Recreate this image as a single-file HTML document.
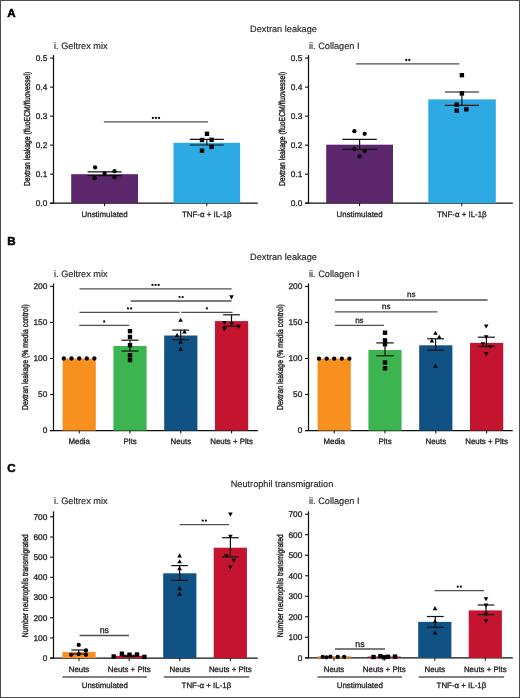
<!DOCTYPE html><html><head><meta charset="utf-8"><style>html,body{margin:0;padding:0;background:#fff;}svg{display:block;font-family:"Liberation Sans",sans-serif;will-change:transform;text-rendering:geometricPrecision;}</style></head><body>
<svg width="520" height="698" viewBox="0 0 520 698">
<rect x="0" y="0" width="520" height="698" fill="#fff"/>
<text x="7.3" y="16.8" font-size="11.6" text-anchor="start" font-weight="bold" fill="#000" stroke="#000" stroke-width="0.15" style="stroke-width:0.5px">A</text>
<text x="7.3" y="244.8" font-size="11.6" text-anchor="start" font-weight="bold" fill="#000" stroke="#000" stroke-width="0.15" style="stroke-width:0.5px">B</text>
<text x="7.3" y="472.3" font-size="11.6" text-anchor="start" font-weight="bold" fill="#000" stroke="#000" stroke-width="0.15" style="stroke-width:0.5px">C</text>
<text x="283.5" y="32.0" font-size="9.2" text-anchor="middle" font-weight="normal" fill="#231f20" stroke="#231f20" stroke-width="0.15" >Dextran leakage</text>
<text x="283.5" y="259.6" font-size="9.2" text-anchor="middle" font-weight="normal" fill="#231f20" stroke="#231f20" stroke-width="0.15" >Dextran leakage</text>
<text x="282.0" y="487.3" font-size="9.2" text-anchor="middle" font-weight="normal" fill="#231f20" stroke="#231f20" stroke-width="0.15" >Neutrophil transmigration</text>
<text x="54" y="49.3" font-size="9.2" text-anchor="start" font-weight="normal" fill="#231f20" stroke="#231f20" stroke-width="0.15" >i. Geltrex mix</text>
<line x1="53.5" y1="55.1" x2="53.5" y2="203.79999999999998" stroke="#111" stroke-width="1.25"/>
<line x1="50.1" y1="203.2" x2="257.8" y2="203.2" stroke="#111" stroke-width="1.25"/>
<line x1="50.1" y1="203.2" x2="53.5" y2="203.2" stroke="#111" stroke-width="1.1"/>
<text x="47.3" y="206.1" font-size="8.3" text-anchor="end" font-weight="normal" fill="#231f20" stroke="#231f20" stroke-width="0.3" >0.0</text>
<line x1="50.1" y1="174.17999999999998" x2="53.5" y2="174.17999999999998" stroke="#111" stroke-width="1.1"/>
<text x="47.3" y="177.07999999999998" font-size="8.3" text-anchor="end" font-weight="normal" fill="#231f20" stroke="#231f20" stroke-width="0.3" >0.1</text>
<line x1="50.1" y1="145.16" x2="53.5" y2="145.16" stroke="#111" stroke-width="1.1"/>
<text x="47.3" y="148.06" font-size="8.3" text-anchor="end" font-weight="normal" fill="#231f20" stroke="#231f20" stroke-width="0.3" >0.2</text>
<line x1="50.1" y1="116.13999999999999" x2="53.5" y2="116.13999999999999" stroke="#111" stroke-width="1.1"/>
<text x="47.3" y="119.03999999999999" font-size="8.3" text-anchor="end" font-weight="normal" fill="#231f20" stroke="#231f20" stroke-width="0.3" >0.3</text>
<line x1="50.1" y1="87.11999999999999" x2="53.5" y2="87.11999999999999" stroke="#111" stroke-width="1.1"/>
<text x="47.3" y="90.02" font-size="8.3" text-anchor="end" font-weight="normal" fill="#231f20" stroke="#231f20" stroke-width="0.3" >0.4</text>
<line x1="50.1" y1="58.099999999999994" x2="53.5" y2="58.099999999999994" stroke="#111" stroke-width="1.1"/>
<text x="47.3" y="60.99999999999999" font-size="8.3" text-anchor="end" font-weight="normal" fill="#231f20" stroke="#231f20" stroke-width="0.3" >0.5</text>
<text x="0" y="0" font-size="8.6" text-anchor="middle" fill="#231f20" stroke="#231f20" stroke-width="0.4" textLength="114.2" lengthAdjust="spacingAndGlyphs" transform="translate(29.9,128.95) rotate(-90)">Dextran leakage (fluoECM/fluovessel)</text>
<rect x="71.2" y="174.2" width="66.80" height="29.00" fill="#5B266C"/>
<rect x="173.5" y="142.8" width="66.60" height="60.40" fill="#2DAAE4"/>
<line x1="104.6" y1="203.2" x2="104.6" y2="206.2" stroke="#111" stroke-width="1"/>
<line x1="206.8" y1="203.2" x2="206.8" y2="206.2" stroke="#111" stroke-width="1"/>
<text x="104.6" y="216.5" font-size="7.9" text-anchor="middle" font-weight="normal" fill="#231f20" stroke="#231f20" stroke-width="0.3" >Unstimulated</text>
<text x="206.8" y="216.5" font-size="7.9" text-anchor="middle" font-weight="normal" fill="#231f20" stroke="#231f20" stroke-width="0.3" >TNF-α + IL-1β</text>
<line x1="104.6" y1="171.8" x2="104.6" y2="175.6" stroke="#111" stroke-width="1.2"/>
<line x1="87.6" y1="171.8" x2="121.6" y2="171.8" stroke="#111" stroke-width="1.2"/>
<line x1="87.6" y1="175.6" x2="121.6" y2="175.6" stroke="#111" stroke-width="1.2"/>
<line x1="206.8" y1="139.3" x2="206.8" y2="145.0" stroke="#111" stroke-width="1.2"/>
<line x1="189.8" y1="139.3" x2="223.8" y2="139.3" stroke="#111" stroke-width="1.2"/>
<line x1="189.8" y1="145.0" x2="223.8" y2="145.0" stroke="#111" stroke-width="1.2"/>
<circle cx="95.1" cy="167.4" r="2.15" fill="#000"/>
<circle cx="104.6" cy="173.5" r="2.15" fill="#000"/>
<circle cx="114.5" cy="171.2" r="2.15" fill="#000"/>
<circle cx="94.6" cy="178.2" r="2.15" fill="#000"/>
<circle cx="114.5" cy="177.3" r="2.15" fill="#000"/>
<rect x="204.80" y="131.60" width="4.4" height="4.4" fill="#000"/>
<rect x="199.80" y="137.80" width="4.4" height="4.4" fill="#000"/>
<rect x="209.40" y="137.60" width="4.4" height="4.4" fill="#000"/>
<rect x="199.80" y="148.50" width="4.4" height="4.4" fill="#000"/>
<rect x="209.40" y="144.70" width="4.4" height="4.4" fill="#000"/>
<line x1="103.8" y1="121.9" x2="208.1" y2="121.9" stroke="#4f4f4f" stroke-width="1.35"/>
<circle cx="152.85" cy="118.00" r="1.15" fill="#111"/>
<circle cx="155.95" cy="118.00" r="1.15" fill="#111"/>
<circle cx="159.05" cy="118.00" r="1.15" fill="#111"/>
<text x="309" y="49.3" font-size="9.2" text-anchor="start" font-weight="normal" fill="#231f20" stroke="#231f20" stroke-width="0.15" >ii. Collagen I</text>
<line x1="308.5" y1="55.1" x2="308.5" y2="203.79999999999998" stroke="#111" stroke-width="1.25"/>
<line x1="305.1" y1="203.2" x2="512.8" y2="203.2" stroke="#111" stroke-width="1.25"/>
<line x1="305.1" y1="203.2" x2="308.5" y2="203.2" stroke="#111" stroke-width="1.1"/>
<text x="302.3" y="206.1" font-size="8.3" text-anchor="end" font-weight="normal" fill="#231f20" stroke="#231f20" stroke-width="0.3" >0.0</text>
<line x1="305.1" y1="174.17999999999998" x2="308.5" y2="174.17999999999998" stroke="#111" stroke-width="1.1"/>
<text x="302.3" y="177.07999999999998" font-size="8.3" text-anchor="end" font-weight="normal" fill="#231f20" stroke="#231f20" stroke-width="0.3" >0.1</text>
<line x1="305.1" y1="145.16" x2="308.5" y2="145.16" stroke="#111" stroke-width="1.1"/>
<text x="302.3" y="148.06" font-size="8.3" text-anchor="end" font-weight="normal" fill="#231f20" stroke="#231f20" stroke-width="0.3" >0.2</text>
<line x1="305.1" y1="116.13999999999999" x2="308.5" y2="116.13999999999999" stroke="#111" stroke-width="1.1"/>
<text x="302.3" y="119.03999999999999" font-size="8.3" text-anchor="end" font-weight="normal" fill="#231f20" stroke="#231f20" stroke-width="0.3" >0.3</text>
<line x1="305.1" y1="87.11999999999999" x2="308.5" y2="87.11999999999999" stroke="#111" stroke-width="1.1"/>
<text x="302.3" y="90.02" font-size="8.3" text-anchor="end" font-weight="normal" fill="#231f20" stroke="#231f20" stroke-width="0.3" >0.4</text>
<line x1="305.1" y1="58.099999999999994" x2="308.5" y2="58.099999999999994" stroke="#111" stroke-width="1.1"/>
<text x="302.3" y="60.99999999999999" font-size="8.3" text-anchor="end" font-weight="normal" fill="#231f20" stroke="#231f20" stroke-width="0.3" >0.5</text>
<text x="0" y="0" font-size="8.6" text-anchor="middle" fill="#231f20" stroke="#231f20" stroke-width="0.4" textLength="114.2" lengthAdjust="spacingAndGlyphs" transform="translate(284.9,128.95) rotate(-90)">Dextran leakage (fluoECM/fluovessel)</text>
<rect x="326.2" y="144.7" width="66.80" height="58.50" fill="#5B266C"/>
<rect x="428.3" y="99.4" width="67.50" height="103.80" fill="#2DAAE4"/>
<line x1="359.6" y1="203.2" x2="359.6" y2="206.2" stroke="#111" stroke-width="1"/>
<line x1="461.8" y1="203.2" x2="461.8" y2="206.2" stroke="#111" stroke-width="1"/>
<text x="359.6" y="216.5" font-size="7.9" text-anchor="middle" font-weight="normal" fill="#231f20" stroke="#231f20" stroke-width="0.3" >Unstimulated</text>
<text x="461.8" y="216.5" font-size="7.9" text-anchor="middle" font-weight="normal" fill="#231f20" stroke="#231f20" stroke-width="0.3" >TNF-α + IL-1β</text>
<line x1="359.6" y1="139.4" x2="359.6" y2="149.4" stroke="#111" stroke-width="1.2"/>
<line x1="342.40000000000003" y1="139.4" x2="376.8" y2="139.4" stroke="#111" stroke-width="1.2"/>
<line x1="342.40000000000003" y1="149.4" x2="376.8" y2="149.4" stroke="#111" stroke-width="1.2"/>
<line x1="461.9" y1="92.0" x2="461.9" y2="105.3" stroke="#111" stroke-width="1.2"/>
<line x1="444.9" y1="92.0" x2="478.9" y2="92.0" stroke="#111" stroke-width="1.2"/>
<line x1="444.9" y1="105.3" x2="478.9" y2="105.3" stroke="#111" stroke-width="1.2"/>
<circle cx="354.4" cy="131.2" r="2.15" fill="#000"/>
<circle cx="364.7" cy="133.8" r="2.15" fill="#000"/>
<circle cx="354.4" cy="149.1" r="2.15" fill="#000"/>
<circle cx="364.7" cy="150.8" r="2.15" fill="#000"/>
<circle cx="359.5" cy="156.3" r="2.15" fill="#000"/>
<rect x="459.70" y="73.00" width="4.4" height="4.4" fill="#000"/>
<rect x="459.70" y="91.20" width="4.4" height="4.4" fill="#000"/>
<rect x="454.50" y="102.40" width="4.4" height="4.4" fill="#000"/>
<rect x="454.50" y="108.50" width="4.4" height="4.4" fill="#000"/>
<rect x="464.20" y="107.10" width="4.4" height="4.4" fill="#000"/>
<line x1="356.1" y1="63.9" x2="459.4" y2="63.9" stroke="#4f4f4f" stroke-width="1.35"/>
<circle cx="406.20" cy="60.00" r="1.15" fill="#111"/>
<circle cx="409.30" cy="60.00" r="1.15" fill="#111"/>
<text x="54" y="276.6" font-size="9.2" text-anchor="start" font-weight="normal" fill="#231f20" stroke="#231f20" stroke-width="0.15" >i. Geltrex mix</text>
<line x1="53.5" y1="283.4" x2="53.5" y2="431.1" stroke="#111" stroke-width="1.25"/>
<line x1="50.1" y1="430.5" x2="257.8" y2="430.5" stroke="#111" stroke-width="1.25"/>
<line x1="50.1" y1="430.5" x2="53.5" y2="430.5" stroke="#111" stroke-width="1.1"/>
<text x="47.3" y="433.4" font-size="8.3" text-anchor="end" font-weight="normal" fill="#231f20" stroke="#231f20" stroke-width="0.3" >0</text>
<line x1="50.1" y1="394.475" x2="53.5" y2="394.475" stroke="#111" stroke-width="1.1"/>
<text x="47.3" y="397.375" font-size="8.3" text-anchor="end" font-weight="normal" fill="#231f20" stroke="#231f20" stroke-width="0.3" >50</text>
<line x1="50.1" y1="358.45" x2="53.5" y2="358.45" stroke="#111" stroke-width="1.1"/>
<text x="47.3" y="361.34999999999997" font-size="8.3" text-anchor="end" font-weight="normal" fill="#231f20" stroke="#231f20" stroke-width="0.3" >100</text>
<line x1="50.1" y1="322.42499999999995" x2="53.5" y2="322.42499999999995" stroke="#111" stroke-width="1.1"/>
<text x="47.3" y="325.32499999999993" font-size="8.3" text-anchor="end" font-weight="normal" fill="#231f20" stroke="#231f20" stroke-width="0.3" >150</text>
<line x1="50.1" y1="286.4" x2="53.5" y2="286.4" stroke="#111" stroke-width="1.1"/>
<text x="47.3" y="289.29999999999995" font-size="8.3" text-anchor="end" font-weight="normal" fill="#231f20" stroke="#231f20" stroke-width="0.3" >200</text>
<text x="0" y="0" font-size="8.6" text-anchor="middle" fill="#231f20" stroke="#231f20" stroke-width="0.4" textLength="105.8" lengthAdjust="spacingAndGlyphs" transform="translate(27.5,357.15) rotate(-90)">Dextran leakage (% media control)</text>
<rect x="62.6" y="358.5" width="33.20" height="72.00" fill="#F7901F"/>
<line x1="79.2" y1="430.5" x2="79.2" y2="433.5" stroke="#111" stroke-width="1"/>
<text x="79.2" y="444.3" font-size="7.9" text-anchor="middle" font-weight="normal" fill="#231f20" stroke="#231f20" stroke-width="0.3" >Media</text>
<rect x="113.4" y="346.0" width="33.20" height="84.50" fill="#3CB44F"/>
<line x1="130.0" y1="430.5" x2="130.0" y2="433.5" stroke="#111" stroke-width="1"/>
<text x="130.0" y="444.3" font-size="7.9" text-anchor="middle" font-weight="normal" fill="#231f20" stroke="#231f20" stroke-width="0.3" >Plts</text>
<rect x="164.20000000000002" y="335.5" width="33.20" height="95.00" fill="#105284"/>
<line x1="180.8" y1="430.5" x2="180.8" y2="433.5" stroke="#111" stroke-width="1"/>
<text x="180.8" y="444.3" font-size="7.9" text-anchor="middle" font-weight="normal" fill="#231f20" stroke="#231f20" stroke-width="0.3" >Neuts</text>
<rect x="215.0" y="321.1" width="33.20" height="109.40" fill="#C4142F"/>
<line x1="231.6" y1="430.5" x2="231.6" y2="433.5" stroke="#111" stroke-width="1"/>
<text x="231.6" y="444.3" font-size="7.9" text-anchor="middle" font-weight="normal" fill="#231f20" stroke="#231f20" stroke-width="0.3" >Neuts + Plts</text>
<line x1="130.0" y1="340.2" x2="130.0" y2="351.0" stroke="#111" stroke-width="1.2"/>
<line x1="121.5" y1="340.2" x2="138.5" y2="340.2" stroke="#111" stroke-width="1.2"/>
<line x1="121.5" y1="351.0" x2="138.5" y2="351.0" stroke="#111" stroke-width="1.2"/>
<line x1="180.7" y1="330.1" x2="180.7" y2="339.6" stroke="#111" stroke-width="1.2"/>
<line x1="172.29999999999998" y1="330.1" x2="189.1" y2="330.1" stroke="#111" stroke-width="1.2"/>
<line x1="172.29999999999998" y1="339.6" x2="189.1" y2="339.6" stroke="#111" stroke-width="1.2"/>
<line x1="231.5" y1="314.8" x2="231.5" y2="326.3" stroke="#111" stroke-width="1.2"/>
<line x1="223.1" y1="314.8" x2="239.9" y2="314.8" stroke="#111" stroke-width="1.2"/>
<line x1="223.1" y1="326.3" x2="239.9" y2="326.3" stroke="#111" stroke-width="1.2"/>
<circle cx="63.8" cy="358.5" r="2.15" fill="#000"/>
<circle cx="71.5" cy="358.5" r="2.15" fill="#000"/>
<circle cx="79.2" cy="358.5" r="2.15" fill="#000"/>
<circle cx="86.8" cy="358.5" r="2.15" fill="#000"/>
<circle cx="94.4" cy="358.5" r="2.15" fill="#000"/>
<rect x="127.80" y="329.00" width="4.4" height="4.4" fill="#000"/>
<rect x="127.80" y="334.80" width="4.4" height="4.4" fill="#000"/>
<rect x="127.80" y="343.00" width="4.4" height="4.4" fill="#000"/>
<rect x="127.80" y="353.00" width="4.4" height="4.4" fill="#000"/>
<rect x="127.80" y="357.80" width="4.4" height="4.4" fill="#000"/>
<path d="M178.30 321.87L182.90 321.87L180.60 317.73Z" fill="#000"/>
<path d="M182.20 333.47L186.80 333.47L184.50 329.33Z" fill="#000"/>
<path d="M174.80 337.07L179.40 337.07L177.10 332.93Z" fill="#000"/>
<path d="M178.30 343.67L182.90 343.67L180.60 339.53Z" fill="#000"/>
<path d="M178.30 350.77L182.90 350.77L180.60 346.63Z" fill="#000"/>
<path d="M229.20 295.33L233.80 295.33L231.50 299.47Z" fill="#000"/>
<path d="M222.10 320.93L226.70 320.93L224.40 325.07Z" fill="#000"/>
<path d="M229.20 322.23L233.80 322.23L231.50 326.37Z" fill="#000"/>
<path d="M236.30 324.63L240.90 324.63L238.60 328.77Z" fill="#000"/>
<path d="M222.10 327.33L226.70 327.33L224.40 331.47Z" fill="#000"/>
<line x1="79.5" y1="288.8" x2="231.7" y2="288.8" stroke="#4f4f4f" stroke-width="1.35"/>
<circle cx="152.50" cy="284.90" r="1.15" fill="#111"/>
<circle cx="155.60" cy="284.90" r="1.15" fill="#111"/>
<circle cx="158.70" cy="284.90" r="1.15" fill="#111"/>
<line x1="130.8" y1="301.0" x2="231.5" y2="301.0" stroke="#4f4f4f" stroke-width="1.35"/>
<circle cx="179.60" cy="297.10" r="1.15" fill="#111"/>
<circle cx="182.70" cy="297.10" r="1.15" fill="#111"/>
<line x1="79.5" y1="312.3" x2="179.5" y2="312.3" stroke="#4f4f4f" stroke-width="1.35"/>
<circle cx="127.95" cy="308.40" r="1.15" fill="#111"/>
<circle cx="131.05" cy="308.40" r="1.15" fill="#111"/>
<line x1="181.2" y1="312.3" x2="232.6" y2="312.3" stroke="#4f4f4f" stroke-width="1.35"/>
<circle cx="206.90" cy="308.40" r="1.15" fill="#111"/>
<line x1="79.2" y1="325.4" x2="129.2" y2="325.4" stroke="#4f4f4f" stroke-width="1.35"/>
<circle cx="104.20" cy="321.50" r="1.15" fill="#111"/>
<text x="309" y="276.6" font-size="9.2" text-anchor="start" font-weight="normal" fill="#231f20" stroke="#231f20" stroke-width="0.15" >ii. Collagen I</text>
<line x1="308.5" y1="283.4" x2="308.5" y2="431.1" stroke="#111" stroke-width="1.25"/>
<line x1="305.1" y1="430.5" x2="512.8" y2="430.5" stroke="#111" stroke-width="1.25"/>
<line x1="305.1" y1="430.5" x2="308.5" y2="430.5" stroke="#111" stroke-width="1.1"/>
<text x="302.3" y="433.4" font-size="8.3" text-anchor="end" font-weight="normal" fill="#231f20" stroke="#231f20" stroke-width="0.3" >0</text>
<line x1="305.1" y1="394.475" x2="308.5" y2="394.475" stroke="#111" stroke-width="1.1"/>
<text x="302.3" y="397.375" font-size="8.3" text-anchor="end" font-weight="normal" fill="#231f20" stroke="#231f20" stroke-width="0.3" >50</text>
<line x1="305.1" y1="358.45" x2="308.5" y2="358.45" stroke="#111" stroke-width="1.1"/>
<text x="302.3" y="361.34999999999997" font-size="8.3" text-anchor="end" font-weight="normal" fill="#231f20" stroke="#231f20" stroke-width="0.3" >100</text>
<line x1="305.1" y1="322.42499999999995" x2="308.5" y2="322.42499999999995" stroke="#111" stroke-width="1.1"/>
<text x="302.3" y="325.32499999999993" font-size="8.3" text-anchor="end" font-weight="normal" fill="#231f20" stroke="#231f20" stroke-width="0.3" >150</text>
<line x1="305.1" y1="286.4" x2="308.5" y2="286.4" stroke="#111" stroke-width="1.1"/>
<text x="302.3" y="289.29999999999995" font-size="8.3" text-anchor="end" font-weight="normal" fill="#231f20" stroke="#231f20" stroke-width="0.3" >200</text>
<text x="0" y="0" font-size="8.6" text-anchor="middle" fill="#231f20" stroke="#231f20" stroke-width="0.4" textLength="105.8" lengthAdjust="spacingAndGlyphs" transform="translate(282.5,357.15) rotate(-90)">Dextran leakage (% media control)</text>
<rect x="317.6" y="358.6" width="33.20" height="71.90" fill="#F7901F"/>
<line x1="334.2" y1="430.5" x2="334.2" y2="433.5" stroke="#111" stroke-width="1"/>
<text x="334.2" y="444.3" font-size="7.9" text-anchor="middle" font-weight="normal" fill="#231f20" stroke="#231f20" stroke-width="0.3" >Media</text>
<rect x="368.4" y="350.0" width="33.20" height="80.50" fill="#3CB44F"/>
<line x1="385.0" y1="430.5" x2="385.0" y2="433.5" stroke="#111" stroke-width="1"/>
<text x="385.0" y="444.3" font-size="7.9" text-anchor="middle" font-weight="normal" fill="#231f20" stroke="#231f20" stroke-width="0.3" >Plts</text>
<rect x="419.20000000000005" y="345.3" width="33.20" height="85.20" fill="#105284"/>
<line x1="435.8" y1="430.5" x2="435.8" y2="433.5" stroke="#111" stroke-width="1"/>
<text x="435.8" y="444.3" font-size="7.9" text-anchor="middle" font-weight="normal" fill="#231f20" stroke="#231f20" stroke-width="0.3" >Neuts</text>
<rect x="470.0" y="342.9" width="33.20" height="87.60" fill="#C4142F"/>
<line x1="486.6" y1="430.5" x2="486.6" y2="433.5" stroke="#111" stroke-width="1"/>
<text x="486.6" y="444.3" font-size="7.9" text-anchor="middle" font-weight="normal" fill="#231f20" stroke="#231f20" stroke-width="0.3" >Neuts + Plts</text>
<line x1="385.0" y1="342.9" x2="385.0" y2="355.8" stroke="#111" stroke-width="1.2"/>
<line x1="376.3" y1="342.9" x2="393.7" y2="342.9" stroke="#111" stroke-width="1.2"/>
<line x1="376.3" y1="355.8" x2="393.7" y2="355.8" stroke="#111" stroke-width="1.2"/>
<line x1="435.6" y1="338.8" x2="435.6" y2="350.2" stroke="#111" stroke-width="1.2"/>
<line x1="427.20000000000005" y1="338.8" x2="444.0" y2="338.8" stroke="#111" stroke-width="1.2"/>
<line x1="427.20000000000005" y1="350.2" x2="444.0" y2="350.2" stroke="#111" stroke-width="1.2"/>
<line x1="486.4" y1="337.2" x2="486.4" y2="346.5" stroke="#111" stroke-width="1.2"/>
<line x1="477.79999999999995" y1="337.2" x2="495.0" y2="337.2" stroke="#111" stroke-width="1.2"/>
<line x1="477.79999999999995" y1="346.5" x2="495.0" y2="346.5" stroke="#111" stroke-width="1.2"/>
<circle cx="319" cy="358.7" r="2.15" fill="#000"/>
<circle cx="326.7" cy="358.7" r="2.15" fill="#000"/>
<circle cx="334.2" cy="358.7" r="2.15" fill="#000"/>
<circle cx="341.8" cy="358.7" r="2.15" fill="#000"/>
<circle cx="349.4" cy="358.7" r="2.15" fill="#000"/>
<rect x="382.80" y="330.50" width="4.4" height="4.4" fill="#000"/>
<rect x="382.80" y="338.20" width="4.4" height="4.4" fill="#000"/>
<rect x="382.80" y="342.00" width="4.4" height="4.4" fill="#000"/>
<rect x="382.80" y="360.30" width="4.4" height="4.4" fill="#000"/>
<rect x="382.80" y="366.10" width="4.4" height="4.4" fill="#000"/>
<path d="M433.20 334.77L437.80 334.77L435.50 330.63Z" fill="#000"/>
<path d="M437.00 338.87L441.60 338.87L439.30 334.73Z" fill="#000"/>
<path d="M429.60 342.47L434.20 342.47L431.90 338.33Z" fill="#000"/>
<path d="M433.20 367.87L437.80 367.87L435.50 363.73Z" fill="#000"/>
<path d="M483.90 324.43L488.50 324.43L486.20 328.57Z" fill="#000"/>
<path d="M483.90 335.13L488.50 335.13L486.20 339.27Z" fill="#000"/>
<path d="M480.60 342.13L485.20 342.13L482.90 346.27Z" fill="#000"/>
<path d="M488.00 344.93L492.60 344.93L490.30 349.07Z" fill="#000"/>
<path d="M483.90 352.23L488.50 352.23L486.20 356.37Z" fill="#000"/>
<line x1="334.9" y1="300.0" x2="487.5" y2="300.0" stroke="#4f4f4f" stroke-width="1.35"/>
<text x="411.2" y="297.1" font-size="8" text-anchor="middle" font-weight="normal" fill="#231f20" stroke="#231f20" stroke-width="0.3" >ns</text>
<line x1="334.9" y1="311.8" x2="437.5" y2="311.8" stroke="#4f4f4f" stroke-width="1.35"/>
<text x="386.2" y="308.90000000000003" font-size="8" text-anchor="middle" font-weight="normal" fill="#231f20" stroke="#231f20" stroke-width="0.3" >ns</text>
<line x1="334.9" y1="325.4" x2="383.9" y2="325.4" stroke="#4f4f4f" stroke-width="1.35"/>
<text x="359.4" y="322.5" font-size="8" text-anchor="middle" font-weight="normal" fill="#231f20" stroke="#231f20" stroke-width="0.3" >ns</text>
<text x="54" y="503.9" font-size="9.2" text-anchor="start" font-weight="normal" fill="#231f20" stroke="#231f20" stroke-width="0.15" >i. Geltrex mix</text>
<line x1="53.5" y1="511.3" x2="53.5" y2="658.7" stroke="#111" stroke-width="1.25"/>
<line x1="50.1" y1="658.1" x2="257.8" y2="658.1" stroke="#111" stroke-width="1.25"/>
<line x1="50.1" y1="658.1" x2="53.5" y2="658.1" stroke="#111" stroke-width="1.1"/>
<text x="47.3" y="661.0" font-size="8.3" text-anchor="end" font-weight="normal" fill="#231f20" stroke="#231f20" stroke-width="0.3" >0</text>
<line x1="50.1" y1="637.9142857142857" x2="53.5" y2="637.9142857142857" stroke="#111" stroke-width="1.1"/>
<text x="47.3" y="640.8142857142857" font-size="8.3" text-anchor="end" font-weight="normal" fill="#231f20" stroke="#231f20" stroke-width="0.3" >100</text>
<line x1="50.1" y1="617.7285714285714" x2="53.5" y2="617.7285714285714" stroke="#111" stroke-width="1.1"/>
<text x="47.3" y="620.6285714285714" font-size="8.3" text-anchor="end" font-weight="normal" fill="#231f20" stroke="#231f20" stroke-width="0.3" >200</text>
<line x1="50.1" y1="597.5428571428572" x2="53.5" y2="597.5428571428572" stroke="#111" stroke-width="1.1"/>
<text x="47.3" y="600.4428571428572" font-size="8.3" text-anchor="end" font-weight="normal" fill="#231f20" stroke="#231f20" stroke-width="0.3" >300</text>
<line x1="50.1" y1="577.3571428571429" x2="53.5" y2="577.3571428571429" stroke="#111" stroke-width="1.1"/>
<text x="47.3" y="580.2571428571429" font-size="8.3" text-anchor="end" font-weight="normal" fill="#231f20" stroke="#231f20" stroke-width="0.3" >400</text>
<line x1="50.1" y1="557.1714285714286" x2="53.5" y2="557.1714285714286" stroke="#111" stroke-width="1.1"/>
<text x="47.3" y="560.0714285714286" font-size="8.3" text-anchor="end" font-weight="normal" fill="#231f20" stroke="#231f20" stroke-width="0.3" >500</text>
<line x1="50.1" y1="536.9857142857143" x2="53.5" y2="536.9857142857143" stroke="#111" stroke-width="1.1"/>
<text x="47.3" y="539.8857142857142" font-size="8.3" text-anchor="end" font-weight="normal" fill="#231f20" stroke="#231f20" stroke-width="0.3" >600</text>
<line x1="50.1" y1="516.8" x2="53.5" y2="516.8" stroke="#111" stroke-width="1.1"/>
<text x="47.3" y="519.6999999999999" font-size="8.3" text-anchor="end" font-weight="normal" fill="#231f20" stroke="#231f20" stroke-width="0.3" >700</text>
<text x="0" y="0" font-size="8.6" text-anchor="middle" fill="#231f20" stroke="#231f20" stroke-width="0.4" textLength="103.0" lengthAdjust="spacingAndGlyphs" transform="translate(27.5,585.75) rotate(-90)">Number neutrophils transmigrated</text>
<rect x="62.4" y="652.0" width="33.20" height="6.10" fill="#F7901F"/>
<line x1="79.0" y1="658.1" x2="79.0" y2="661.1" stroke="#111" stroke-width="1"/>
<text x="79.0" y="671.9" font-size="7.9" text-anchor="middle" font-weight="normal" fill="#231f20" stroke="#231f20" stroke-width="0.3" >Neuts</text>
<rect x="112.6" y="655.8" width="33.20" height="2.30" fill="#C4142F"/>
<line x1="129.2" y1="658.1" x2="129.2" y2="661.1" stroke="#111" stroke-width="1"/>
<text x="129.2" y="671.9" font-size="7.9" text-anchor="middle" font-weight="normal" fill="#231f20" stroke="#231f20" stroke-width="0.3" >Neuts + Plts</text>
<rect x="163.20000000000002" y="573.3" width="33.20" height="84.80" fill="#105284"/>
<line x1="179.8" y1="658.1" x2="179.8" y2="661.1" stroke="#111" stroke-width="1"/>
<text x="179.8" y="671.9" font-size="7.9" text-anchor="middle" font-weight="normal" fill="#231f20" stroke="#231f20" stroke-width="0.3" >Neuts</text>
<rect x="213.70000000000002" y="547.7" width="33.20" height="110.40" fill="#C4142F"/>
<line x1="230.3" y1="658.1" x2="230.3" y2="661.1" stroke="#111" stroke-width="1"/>
<text x="230.3" y="671.9" font-size="7.9" text-anchor="middle" font-weight="normal" fill="#231f20" stroke="#231f20" stroke-width="0.3" >Neuts + Plts</text>
<line x1="62.5" y1="677.0" x2="147.0" y2="677.0" stroke="#575757" stroke-width="1.7"/>
<line x1="163.7" y1="677.0" x2="249.2" y2="677.0" stroke="#575757" stroke-width="1.7"/>
<text x="104.8" y="688.4" font-size="7.9" text-anchor="middle" font-weight="normal" fill="#231f20" stroke="#231f20" stroke-width="0.3" >Unstimulated</text>
<text x="206.4" y="688.4" font-size="7.9" text-anchor="middle" font-weight="normal" fill="#231f20" stroke="#231f20" stroke-width="0.3" >TNF-α + IL-1β</text>
<line x1="78.7" y1="650.0" x2="78.7" y2="654.0" stroke="#111" stroke-width="1.2"/>
<line x1="71.4" y1="650.0" x2="86.0" y2="650.0" stroke="#111" stroke-width="1.2"/>
<line x1="71.4" y1="654.0" x2="86.0" y2="654.0" stroke="#111" stroke-width="1.2"/>
<line x1="129.2" y1="655.3" x2="129.2" y2="656.5" stroke="#111" stroke-width="1.2"/>
<line x1="121.69999999999999" y1="655.3" x2="136.7" y2="655.3" stroke="#111" stroke-width="1.2"/>
<line x1="121.69999999999999" y1="656.5" x2="136.7" y2="656.5" stroke="#111" stroke-width="1.2"/>
<line x1="179.6" y1="565.6" x2="179.6" y2="580.4" stroke="#111" stroke-width="1.2"/>
<line x1="171.29999999999998" y1="565.6" x2="187.9" y2="565.6" stroke="#111" stroke-width="1.2"/>
<line x1="171.29999999999998" y1="580.4" x2="187.9" y2="580.4" stroke="#111" stroke-width="1.2"/>
<line x1="230.4" y1="537.7" x2="230.4" y2="556.9" stroke="#111" stroke-width="1.2"/>
<line x1="222.0" y1="537.7" x2="238.8" y2="537.7" stroke="#111" stroke-width="1.2"/>
<line x1="222.0" y1="556.9" x2="238.8" y2="556.9" stroke="#111" stroke-width="1.2"/>
<circle cx="78.7" cy="644.9" r="2.15" fill="#000"/>
<circle cx="71.2" cy="654.8" r="2.15" fill="#000"/>
<circle cx="78.7" cy="654.1" r="2.15" fill="#000"/>
<circle cx="86.0" cy="650.5" r="2.15" fill="#000"/>
<circle cx="86.0" cy="654.8" r="2.15" fill="#000"/>
<rect x="111.50" y="654.30" width="4.4" height="4.4" fill="#000"/>
<rect x="119.70" y="651.50" width="4.4" height="4.4" fill="#000"/>
<rect x="127.30" y="652.50" width="4.4" height="4.4" fill="#000"/>
<rect x="134.80" y="652.30" width="4.4" height="4.4" fill="#000"/>
<rect x="142.20" y="654.70" width="4.4" height="4.4" fill="#000"/>
<path d="M177.30 557.47L181.90 557.47L179.60 553.33Z" fill="#000"/>
<path d="M177.30 563.27L181.90 563.27L179.60 559.13Z" fill="#000"/>
<path d="M177.30 570.17L181.90 570.17L179.60 566.03Z" fill="#000"/>
<path d="M177.30 590.17L181.90 590.17L179.60 586.03Z" fill="#000"/>
<path d="M177.30 595.87L181.90 595.87L179.60 591.73Z" fill="#000"/>
<path d="M228.10 512.53L232.70 512.53L230.40 516.67Z" fill="#000"/>
<path d="M228.10 534.63L232.70 534.63L230.40 538.77Z" fill="#000"/>
<path d="M224.20 553.93L228.80 553.93L226.50 558.07Z" fill="#000"/>
<path d="M231.50 558.73L236.10 558.73L233.80 562.87Z" fill="#000"/>
<path d="M228.10 565.43L232.70 565.43L230.40 569.57Z" fill="#000"/>
<line x1="79.6" y1="635.5" x2="129.0" y2="635.5" stroke="#4f4f4f" stroke-width="1.35"/>
<text x="104.3" y="632.7" font-size="8.8" text-anchor="middle" font-weight="normal" fill="#231f20" stroke="#231f20" stroke-width="0.3" >ns</text>
<line x1="179.6" y1="524.6" x2="229.0" y2="524.6" stroke="#4f4f4f" stroke-width="1.35"/>
<circle cx="202.75" cy="520.70" r="1.15" fill="#111"/>
<circle cx="205.85" cy="520.70" r="1.15" fill="#111"/>
<text x="309" y="503.9" font-size="9.2" text-anchor="start" font-weight="normal" fill="#231f20" stroke="#231f20" stroke-width="0.15" >ii. Collagen I</text>
<line x1="308.5" y1="511.3" x2="308.5" y2="658.4" stroke="#111" stroke-width="1.25"/>
<line x1="305.1" y1="657.8" x2="512.8" y2="657.8" stroke="#111" stroke-width="1.25"/>
<line x1="305.1" y1="657.8" x2="308.5" y2="657.8" stroke="#111" stroke-width="1.1"/>
<text x="302.3" y="660.6999999999999" font-size="8.3" text-anchor="end" font-weight="normal" fill="#231f20" stroke="#231f20" stroke-width="0.3" >0</text>
<line x1="305.1" y1="637.2857142857142" x2="308.5" y2="637.2857142857142" stroke="#111" stroke-width="1.1"/>
<text x="302.3" y="640.1857142857142" font-size="8.3" text-anchor="end" font-weight="normal" fill="#231f20" stroke="#231f20" stroke-width="0.3" >100</text>
<line x1="305.1" y1="616.7714285714286" x2="308.5" y2="616.7714285714286" stroke="#111" stroke-width="1.1"/>
<text x="302.3" y="619.6714285714286" font-size="8.3" text-anchor="end" font-weight="normal" fill="#231f20" stroke="#231f20" stroke-width="0.3" >200</text>
<line x1="305.1" y1="596.2571428571429" x2="308.5" y2="596.2571428571429" stroke="#111" stroke-width="1.1"/>
<text x="302.3" y="599.1571428571428" font-size="8.3" text-anchor="end" font-weight="normal" fill="#231f20" stroke="#231f20" stroke-width="0.3" >300</text>
<line x1="305.1" y1="575.7428571428571" x2="308.5" y2="575.7428571428571" stroke="#111" stroke-width="1.1"/>
<text x="302.3" y="578.6428571428571" font-size="8.3" text-anchor="end" font-weight="normal" fill="#231f20" stroke="#231f20" stroke-width="0.3" >400</text>
<line x1="305.1" y1="555.2285714285714" x2="308.5" y2="555.2285714285714" stroke="#111" stroke-width="1.1"/>
<text x="302.3" y="558.1285714285714" font-size="8.3" text-anchor="end" font-weight="normal" fill="#231f20" stroke="#231f20" stroke-width="0.3" >500</text>
<line x1="305.1" y1="534.7142857142858" x2="308.5" y2="534.7142857142858" stroke="#111" stroke-width="1.1"/>
<text x="302.3" y="537.6142857142858" font-size="8.3" text-anchor="end" font-weight="normal" fill="#231f20" stroke="#231f20" stroke-width="0.3" >600</text>
<line x1="305.1" y1="514.2" x2="308.5" y2="514.2" stroke="#111" stroke-width="1.1"/>
<text x="302.3" y="517.1" font-size="8.3" text-anchor="end" font-weight="normal" fill="#231f20" stroke="#231f20" stroke-width="0.3" >700</text>
<text x="0" y="0" font-size="8.6" text-anchor="middle" fill="#231f20" stroke="#231f20" stroke-width="0.4" textLength="103.0" lengthAdjust="spacingAndGlyphs" transform="translate(282.5,585.75) rotate(-90)">Number neutrophils transmigrated</text>
<rect x="317.4" y="656.3" width="33.20" height="1.50" fill="#F7901F"/>
<line x1="334.0" y1="657.8" x2="334.0" y2="660.8" stroke="#111" stroke-width="1"/>
<text x="334.0" y="671.9" font-size="7.9" text-anchor="middle" font-weight="normal" fill="#231f20" stroke="#231f20" stroke-width="0.3" >Neuts</text>
<rect x="367.6" y="656.5" width="33.20" height="1.30" fill="#C4142F"/>
<line x1="384.2" y1="657.8" x2="384.2" y2="660.8" stroke="#111" stroke-width="1"/>
<text x="384.2" y="671.9" font-size="7.9" text-anchor="middle" font-weight="normal" fill="#231f20" stroke="#231f20" stroke-width="0.3" >Neuts + Plts</text>
<rect x="418.20000000000005" y="621.9" width="33.20" height="35.90" fill="#105284"/>
<line x1="434.8" y1="657.8" x2="434.8" y2="660.8" stroke="#111" stroke-width="1"/>
<text x="434.8" y="671.9" font-size="7.9" text-anchor="middle" font-weight="normal" fill="#231f20" stroke="#231f20" stroke-width="0.3" >Neuts</text>
<rect x="468.70000000000005" y="610.4" width="33.20" height="47.40" fill="#C4142F"/>
<line x1="485.3" y1="657.8" x2="485.3" y2="660.8" stroke="#111" stroke-width="1"/>
<text x="485.3" y="671.9" font-size="7.9" text-anchor="middle" font-weight="normal" fill="#231f20" stroke="#231f20" stroke-width="0.3" >Neuts + Plts</text>
<line x1="317.5" y1="677.0" x2="402.0" y2="677.0" stroke="#575757" stroke-width="1.7"/>
<line x1="418.7" y1="677.0" x2="504.2" y2="677.0" stroke="#575757" stroke-width="1.7"/>
<text x="359.8" y="688.4" font-size="7.9" text-anchor="middle" font-weight="normal" fill="#231f20" stroke="#231f20" stroke-width="0.3" >Unstimulated</text>
<text x="461.4" y="688.4" font-size="7.9" text-anchor="middle" font-weight="normal" fill="#231f20" stroke="#231f20" stroke-width="0.3" >TNF-α + IL-1β</text>
<line x1="435.3" y1="616.5" x2="435.3" y2="627.3" stroke="#111" stroke-width="1.2"/>
<line x1="426.90000000000003" y1="616.5" x2="443.7" y2="616.5" stroke="#111" stroke-width="1.2"/>
<line x1="426.90000000000003" y1="627.3" x2="443.7" y2="627.3" stroke="#111" stroke-width="1.2"/>
<line x1="486.0" y1="605.0" x2="486.0" y2="614.6" stroke="#111" stroke-width="1.2"/>
<line x1="477.7" y1="605.0" x2="494.3" y2="605.0" stroke="#111" stroke-width="1.2"/>
<line x1="477.7" y1="614.6" x2="494.3" y2="614.6" stroke="#111" stroke-width="1.2"/>
<circle cx="322.7" cy="656.9" r="2.15" fill="#000"/>
<circle cx="330.4" cy="656.6" r="2.15" fill="#000"/>
<circle cx="337.7" cy="656.9" r="2.15" fill="#000"/>
<circle cx="344.2" cy="656.9" r="2.15" fill="#000"/>
<circle cx="326.5" cy="657.3" r="2.15" fill="#000"/>
<rect x="371.30" y="654.80" width="4.4" height="4.4" fill="#000"/>
<rect x="378.20" y="654.00" width="4.4" height="4.4" fill="#000"/>
<rect x="385.80" y="654.60" width="4.4" height="4.4" fill="#000"/>
<rect x="392.80" y="654.40" width="4.4" height="4.4" fill="#000"/>
<rect x="381.80" y="655.10" width="4.4" height="4.4" fill="#000"/>
<path d="M432.70 610.17L437.30 610.17L435.00 606.03Z" fill="#000"/>
<path d="M432.70 623.07L437.30 623.07L435.00 618.93Z" fill="#000"/>
<path d="M432.70 634.57L437.30 634.57L435.00 630.43Z" fill="#000"/>
<path d="M483.70 597.13L488.30 597.13L486.00 601.27Z" fill="#000"/>
<path d="M483.70 603.53L488.30 603.53L486.00 607.67Z" fill="#000"/>
<path d="M483.70 612.53L488.30 612.53L486.00 616.67Z" fill="#000"/>
<path d="M483.70 619.43L488.30 619.43L486.00 623.57Z" fill="#000"/>
<line x1="335.0" y1="649.0" x2="385.0" y2="649.0" stroke="#4f4f4f" stroke-width="1.35"/>
<text x="360.0" y="646.8" font-size="8.8" text-anchor="middle" font-weight="normal" fill="#231f20" stroke="#231f20" stroke-width="0.3" >ns</text>
<line x1="434.6" y1="590.6" x2="484.0" y2="590.6" stroke="#4f4f4f" stroke-width="1.35"/>
<circle cx="457.75" cy="586.70" r="1.15" fill="#111"/>
<circle cx="460.85" cy="586.70" r="1.15" fill="#111"/>
<rect x="0.5" y="0.5" width="519" height="697" fill="none" stroke="#4d4d4d" stroke-width="1"/>
</svg></body></html>
